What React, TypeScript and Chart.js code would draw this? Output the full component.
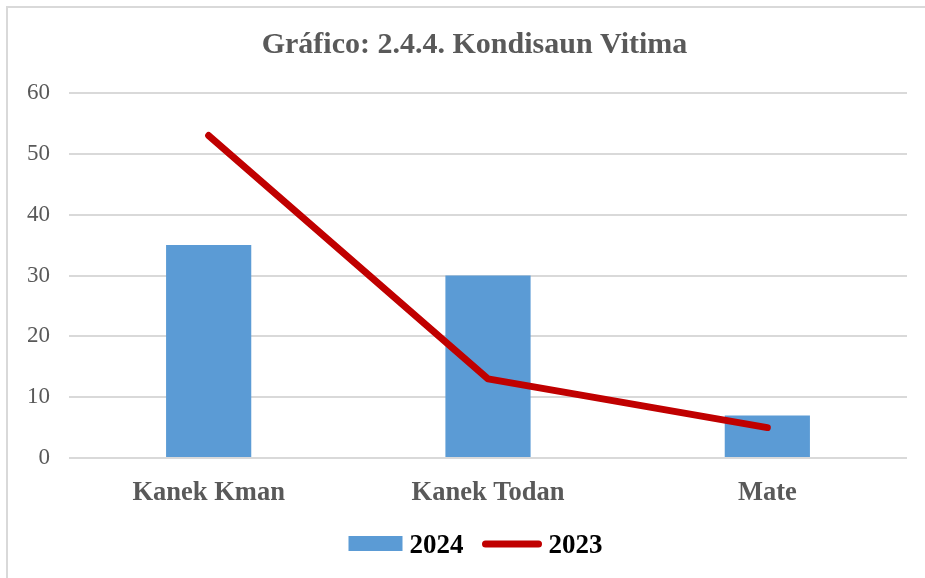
import React, { useEffect, useRef } from "react";
import { Chart, registerables } from "chart.js";

Chart.register(...registerables);

const TITLE = "Gráfico: 2.4.4. Kondisaun Vitima";
const categories = ["Kanek Kman", "Kanek Todan", "Mate"];
const series2024 = [35, 30, 7];
const series2023 = [53, 13, 5];
const yTicks = [0, 10, 20, 30, 40, 50, 60];

const BAR_COLOR = "#5b9bd5";
const LINE_COLOR = "#c00000";
const GRID_COLOR = "#d9d9d9";
const TEXT_GRAY = "#595959";
const SERIF = "'Liberation Serif', 'Times New Roman', serif";

const framePlugin = {
  id: "frame",
  beforeDraw(chart: any) {
    const ctx = chart.ctx;
    ctx.save();
    ctx.fillStyle = "#ffffff";
    ctx.fillRect(0, 0, chart.width, chart.height);
    ctx.strokeStyle = GRID_COLOR;
    ctx.lineWidth = 2;
    ctx.beginPath();
    ctx.moveTo(chart.width, 7);
    ctx.lineTo(7, 7);
    ctx.lineTo(7, chart.height);
    ctx.stroke();
    ctx.restore();
  },
  afterDraw(chart: any) {
    const ctx = chart.ctx;
    const ds = chart.data.datasets;
    ctx.save();
    // title
    ctx.font = `bold 30px ${SERIF}`;
    ctx.fillStyle = TEXT_GRAY;
    ctx.textAlign = "center";
    ctx.textBaseline = "middle";
    ctx.fillText(TITLE, chart.width / 2 + 12, 45);
    // legend
    ctx.textAlign = "left";
    ctx.font = `bold 27px ${SERIF}`;
    ctx.fillStyle = "#000000";
    const cy = 544;
    const boxW = 54;
    const lineW = 59;
    const gap = 7;
    const itemGap = 19;
    const w1 = ctx.measureText(ds[0].label).width;
    const w2 = ctx.measureText(ds[1].label).width;
    const total = boxW + gap + w1 + itemGap + lineW + gap + w2;
    let x = chart.width / 2 - total / 2 + 13;
    ctx.fillStyle = BAR_COLOR;
    ctx.fillRect(x, cy - 8, boxW, 15);
    x += boxW + gap;
    ctx.fillStyle = "#000000";
    ctx.fillText(ds[0].label, x, cy + 2);
    x += w1 + itemGap;
    ctx.strokeStyle = LINE_COLOR;
    ctx.lineWidth = 7;
    ctx.lineCap = "round";
    ctx.beginPath();
    ctx.moveTo(x + 3, cy);
    ctx.lineTo(x + lineW - 3, cy);
    ctx.stroke();
    x += lineW + gap;
    ctx.fillText(ds[1].label, x, cy + 2);
    ctx.restore();
  },
};

export default function App() {
  const ref = useRef<HTMLCanvasElement | null>(null);

  useEffect(() => {
    document.body.style.margin = "0";
    if (!ref.current) return;
    const chart = new Chart(ref.current, {
      type: "bar",
      data: {
        labels: categories,
        datasets: [
          {
            type: "bar",
            label: "2024",
            data: series2024,
            backgroundColor: BAR_COLOR,
            borderWidth: 0,
            barPercentage: 0.305,
            categoryPercentage: 1,
            order: 1,
          },
          {
            type: "line",
            label: "2023",
            data: series2023,
            borderColor: LINE_COLOR,
            backgroundColor: LINE_COLOR,
            borderWidth: 7,
            borderCapStyle: "round",
            borderJoinStyle: "round",
            pointRadius: 0,
            tension: 0,
            order: 0,
          },
        ],
      },
      options: {
        responsive: false,
        animation: false,
        devicePixelRatio: 1,
        layout: { padding: { left: 8, right: 18, top: 0, bottom: 0 } },
        plugins: {
          legend: { display: false },
          tooltip: { enabled: false },
          title: {
            display: true,
            text: TITLE,
            color: "rgba(0,0,0,0)",
            font: { family: SERIF, size: 30, weight: "bold" },
            padding: { top: 27, bottom: 30 },
          },
        },
        scales: {
          x: {
            grid: { display: false, drawTicks: false },
            border: { display: false },
            ticks: {
              color: TEXT_GRAY,
              font: { family: SERIF, size: 26.5, weight: "bold" },
              padding: 19,
            },
            afterFit(scale: any) {
              scale.height = 120;
            },
          },
          y: {
            min: 0,
            max: 60,
            afterBuildTicks(scale: any) {
              scale.ticks = yTicks.map((v) => ({ value: v }));
            },
            grid: { color: GRID_COLOR, lineWidth: 2, drawTicks: false },
            border: { display: false },
            ticks: {
              color: TEXT_GRAY,
              font: { family: SERIF, size: 23 },
              padding: 19,
            },
            afterFit(scale: any) {
              scale.width = 61;
            },
          },
        },
      },
      plugins: [framePlugin],
    });
    return () => chart.destroy();
  }, []);

  return <canvas ref={ref} width={925} height={578} style={{ display: "block" }} />;
}
